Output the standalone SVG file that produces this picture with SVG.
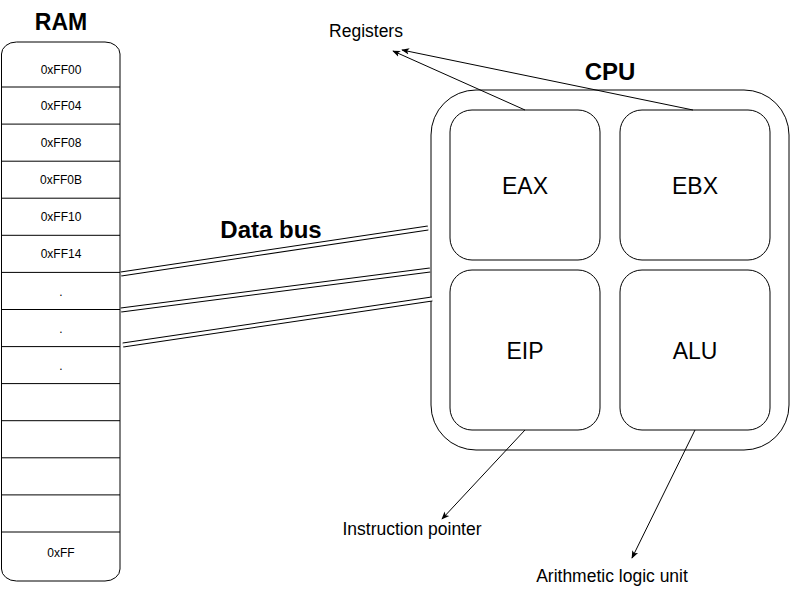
<svg xmlns="http://www.w3.org/2000/svg" width="791" height="596" viewBox="0 0 791 596">
<style>
text{font-family:"Liberation Sans",Arial,sans-serif;fill:#000;text-anchor:middle}
.b{font-weight:bold;font-size:23px}
.b2{font-weight:bold;font-size:24px}
.cell{font-size:12px}
.reg{font-size:23px}
.lbl{font-size:17.5px}
.box{fill:#fff;stroke:#000;stroke-width:1}
.row{stroke:#000;stroke-width:1;fill:none}
.busO{stroke:#000;stroke-width:5;fill:none}
.busI{stroke:#fff;stroke-width:3;fill:none}
.arr{stroke:#000;stroke-width:1;fill:none;marker-end:url(#ah)}
</style>
<defs>
<marker id="ah" viewBox="0 0 10 10" refX="9" refY="5" markerWidth="8" markerHeight="8" markerUnits="userSpaceOnUse" orient="auto">
<path d="M0,1 L10,5 L0,9 L2.5,5 Z" fill="#000"/>
</marker>
</defs>
<rect width="791" height="596" fill="#fff"/>
<g id="ram">
<text class="b" x="61" y="30">RAM</text>
<rect class="box" x="1.5" y="42" width="118.5" height="539" rx="15" ry="12"/>
<path class="row" d="M1.5,87H120M1.5,124.1H120M1.5,161.2H120M1.5,198.2H120M1.5,235.3H120M1.5,272.4H120M1.5,309.5H120M1.5,346.6H120M1.5,383.6H120M1.5,420.7H120M1.5,457.8H120M1.5,494.9H120M1.5,532H120"/>
<text class="cell" x="61" y="74">0xFF00</text>
<text class="cell" x="61" y="110">0xFF04</text>
<text class="cell" x="61" y="147">0xFF08</text>
<text class="cell" x="61" y="184">0xFF0B</text>
<text class="cell" x="61" y="221">0xFF10</text>
<text class="cell" x="61" y="258">0xFF14</text>
<text class="cell" x="61" y="296">.</text>
<text class="cell" x="61" y="333">.</text>
<text class="cell" x="61" y="370">.</text>
<text class="cell" x="61" y="557">0xFF</text>
</g>
<g id="cpu">
<text class="b2" x="610" y="80">CPU</text>
<rect class="box" x="431" y="90" width="358" height="360" rx="45" ry="45"/>
</g>
<g id="eax">
<rect class="box" x="450" y="110" width="150" height="150" rx="22" ry="22"/>
<text class="reg" x="525" y="194">EAX</text>
</g>
<g id="ebx">
<rect class="box" x="620" y="110" width="150" height="150" rx="22" ry="22"/>
<text class="reg" x="695" y="194">EBX</text>
</g>
<g id="eip">
<rect class="box" x="450" y="270" width="150" height="160" rx="22" ry="22"/>
<text class="reg" x="525" y="359">EIP</text>
</g>
<g id="alu">
<rect class="box" x="620" y="270" width="150" height="160" rx="22" ry="22"/>
<text class="reg" x="695" y="359">ALU</text>
</g>
<g id="labels">
<text class="lbl" x="366" y="37">Registers</text>
<text class="b2" x="271" y="238">Data bus</text>
<text class="lbl" x="412" y="535">Instruction pointer</text>
<text class="lbl" x="612" y="582">Arithmetic logic unit</text>
</g>
<g id="connectors">
<path class="busO" d="M121,274L428,228"/>
<path class="busI" d="M121,274L428,228"/>
<path class="busO" d="M121,310L430,270"/>
<path class="busI" d="M121,310L430,270"/>
<path class="busO" d="M123,345L432,299"/>
<path class="busI" d="M123,345L432,299"/>
<path class="arr" d="M525,110L393,51"/>
<path class="arr" d="M693,110L402,50"/>
<path class="arr" d="M525,430L442,519"/>
<path class="arr" d="M695,430L632,558"/>
</g>
</svg>
